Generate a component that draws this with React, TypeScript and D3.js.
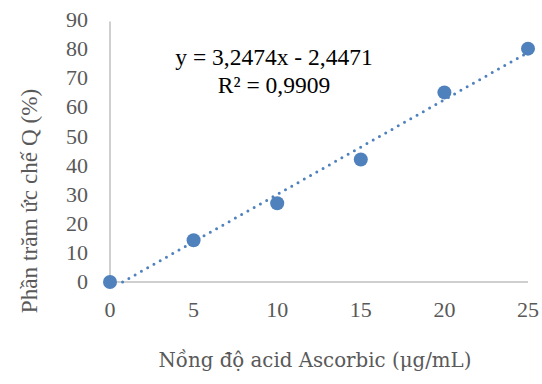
import React from "react";
import * as d3 from "d3";

const xValues = [0, 5, 10, 15, 20, 25];
const yValues = [0, 14.3, 27, 42, 65, 80];
const xTicks = [0, 5, 10, 15, 20, 25];
const yTicks = [0, 10, 20, 30, 40, 50, 60, 70, 80, 90];
const slope = 3.2474;
const intercept = -2.4471;
const eqText = "y = 3,2474x - 2,4471";
const r2Text = "R² = 0,9909";
const xTitle = "Nồng độ acid Ascorbic (μg/mL)";
const yTitle = "Phần trăm ức chế Q (%)";

export default function App() {
  const W = 542, H = 384;
  const x = d3.scaleLinear().domain([0, 25]).range([110, 528]);
  const y = d3.scaleLinear().domain([0, 90]).range([282, 19.5]);
  const blue = "#4F81BD";
  const grey = "#595959";
  const x0 = -intercept / slope;
  const line = d3.line<number>().x((d) => x(d)).y((d) => y(slope * d + intercept));
  const serif = "'Liberation Serif', 'Times New Roman', serif";
  return (
    <svg width={W} height={H} style={{ position: "absolute", left: 0, top: 0 }}>
      <rect width={W} height={H} fill="white" />
      <line x1={x(0)} x2={x(0)} y1={y(90) + 2} y2={y(0)} stroke="#BFBFBF" strokeWidth={1.5} />
      <line x1={x(0)} x2={x(25)} y1={y(0)} y2={y(0)} stroke="#BFBFBF" strokeWidth={1.5} />
      {yTicks.map((t) => (
        <text key={t} x={88} y={y(t)} dy="0.34em" textAnchor="end" fontFamily={serif} fontSize={22} fill={grey}>
          {t}
        </text>
      ))}
      {xTicks.map((t) => (
        <text key={t} x={x(t)} y={317} textAnchor="middle" fontFamily={serif} fontSize={22} fill={grey}>
          {t}
        </text>
      ))}
      <path
        d={line([x0, 25]) || ""}
        fill="none"
        stroke={blue}
        strokeWidth={3}
        strokeLinecap="round"
        strokeDasharray="0 7.2"
      />
      {xValues.map((xv, i) => (
        <circle key={i} cx={x(xv)} cy={y(yValues[i])} r={7} fill={blue} />
      ))}
      <text x={274} y={65} textAnchor="middle" fontFamily={serif} fontSize={23.5} fill="#000">
        {eqText}
      </text>
      <text x={274} y={93} textAnchor="middle" fontFamily={serif} fontSize={23.5} fill="#000">
        {r2Text}
      </text>
      <text
        transform={`translate(37,201) rotate(-90)`}
        textAnchor="middle"
        fontFamily={serif}
        fontSize={23.2}
        fill={grey}
      >
        {yTitle}
      </text>
      <text x={315} y={367} textAnchor="middle" fontFamily="'DejaVu Serif', serif" fontSize={19.8} fill={grey}>
        {xTitle}
      </text>
    </svg>
  );
}
